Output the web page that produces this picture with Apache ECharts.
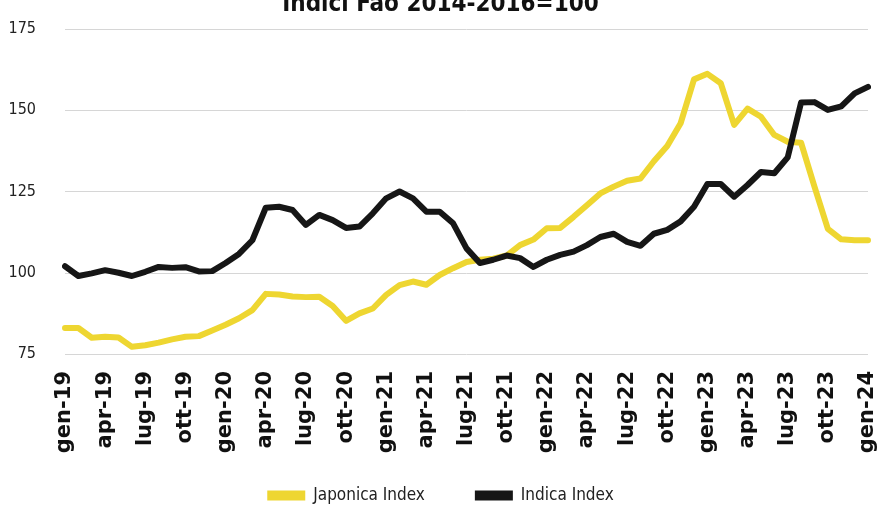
<!DOCTYPE html>
<html>
<head>
<meta charset="utf-8">
<script src="https://cdn.jsdelivr.net/npm/echarts@6/dist/echarts.min.js"></script>
<style>
html,body{margin:0;padding:0;background:#fff;}
#chart{width:881px;height:509px;}
</style>
</head>
<body>
<div id="chart"></div>
<script>
const titleText = 'Indici Fao 2014-2016=100';
const monthNames = ['gen','feb','mar','apr','mag','giu','lug','ago','set','ott','nov','dic'];
const years = ['19','20','21','22','23','24'];
const categories = [];
years.forEach(function (y, yi) {
  monthNames.forEach(function (m, mi) {
    if (yi < years.length - 1 || mi === 0) categories.push(m + '-' + y);
  });
});
const yTicks = [75, 100, 125, 150, 175];
const seriesNames = ['Japonica Index', 'Indica Index'];
const japonica = [
  83, 83, 80, 80.3, 80.1, 77.2, 77.7, 78.5, 79.5, 80.3, 80.5, 82.2,
  84, 86, 88.5, 93.5, 93.3, 92.7, 92.5, 92.6, 89.8, 85.2, 87.5, 89,
  93.2, 96.2, 97.3, 96.3, 99.3, 101.4, 103.3, 104, 104.3, 105.3, 108.5, 110.2,
  113.7, 113.8, 117.2, 120.8, 124.4, 126.5, 128.3, 129, 134.3, 139, 146, 159.5,
  161.2, 158.3, 145.5, 150.5, 148, 142.4, 140.3, 140, 126.5, 113.5, 110.3, 110,
  110
];
const indica = [
  102, 99, 99.8, 100.8, 100, 99, 100.3, 101.8, 101.5, 101.7, 100.4, 100.5,
  103, 105.8, 110, 120, 120.3, 119.3, 114.7, 117.8, 116.2, 113.8, 114.2, 118.3,
  122.9, 125, 122.9, 118.8, 118.8, 115.2, 107.5, 103, 104, 105.3, 104.5, 101.8,
  104, 105.5, 106.5, 108.5, 111, 112, 109.5, 108.3, 112, 113.2, 115.8, 120.3,
  127.3, 127.3, 123.4, 127, 131, 130.6, 135.5, 152.4, 152.5, 150.1, 151.2, 155.2,
  157.2
];

const condensed = "'Liberation Sans Narrow','DejaVu Sans Condensed','Roboto Condensed','Arial Narrow',sans-serif";
const chart = echarts.init(document.getElementById('chart'), null, {renderer: 'canvas'});
chart.setOption({
  animation: false,
  backgroundColor: '#ffffff',
  title: {
    text: titleText,
    left: 'center',
    top: -12,
    textStyle: {fontFamily: condensed, fontWeight: 'bold', fontSize: 24, color: '#111'}
  },
  legend: {
    bottom: 0,
    left: 'center',
    itemWidth: 38,
    itemHeight: 10,
    itemGap: 50,
    icon: 'rect',
    data: seriesNames,
    textStyle: {fontFamily: condensed, fontSize: 17, color: '#222', padding: [0, 0, 0, 3]}
  },
  grid: {left: 65, right: 13, top: 29, bottom: 155, containLabel: false},
  xAxis: {
    type: 'category',
    data: categories,
    boundaryGap: false,
    axisLine: {show: false},
    axisTick: {show: false},
    splitLine: {show: false},
    axisLabel: {
      interval: 2,
      rotate: 90,
      margin: 17,
      fontFamily: "'DejaVu Sans',sans-serif",
      fontWeight: 'bold',
      fontSize: 21,
      color: '#111'
    }
  },
  yAxis: {
    type: 'value',
    min: yTicks[0],
    max: yTicks[yTicks.length - 1],
    interval: 25,
    axisLine: {show: false},
    axisTick: {show: false},
    splitLine: {lineStyle: {color: '#d6d6d6', width: 1}},
    axisLabel: {margin: 29, fontFamily: condensed, fontSize: 16, color: '#222'}
  },
  series: [
    {
      name: seriesNames[0],
      type: 'line',
      data: japonica,
      symbol: 'none',
      color: '#EED631',
      lineStyle: {width: 6, color: '#EED631', join: 'round', cap: 'round'},
      z: 2
    },
    {
      name: seriesNames[1],
      type: 'line',
      data: indica,
      symbol: 'none',
      color: '#161616',
      lineStyle: {width: 6, color: '#161616', join: 'round', cap: 'round'},
      z: 3
    }
  ]
});
</script>
</body>
</html>
